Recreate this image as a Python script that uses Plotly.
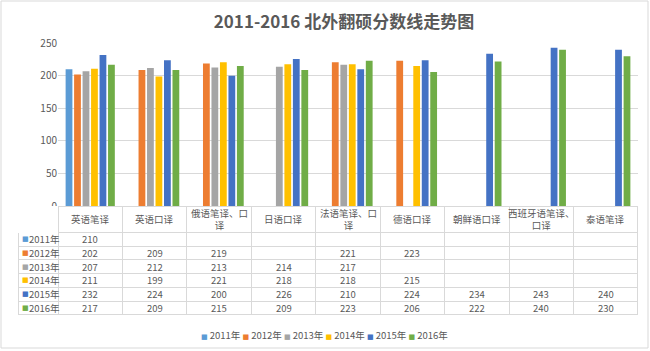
import plotly.graph_objects as go

W, H = 650, 351

categories = ["英语笔译", "英语口译", "俄语笔译、口<br>译", "日语口译", "法语笔译、口<br>译",
              "德语口译", "朝鲜语口译", "西班牙语笔译、<br>口译", "泰语笔译"]
series_names = ["2011年", "2012年", "2013年", "2014年", "2015年", "2016年"]
colors = ["#5B9BD5", "#ED7D31", "#A5A5A5", "#FFC000", "#4472C4", "#70AD47"]

v2011 = [210, None, None, None, None, None, None, None, None]
v2012 = [202, 209, 219, None, 221, 223, None, None, None]
v2013 = [207, 212, 213, 214, 217, None, None, None, None]
v2014 = [211, 199, 221, 218, 218, 215, None, None, None]
v2015 = [232, 224, 200, 226, 210, 224, 234, 243, 240]
v2016 = [217, 209, 215, 209, 223, 206, 222, 240, 230]
series_values = [v2011, v2012, v2013, v2014, v2015, v2016]

y_ticks = [0, 50, 100, 150, 200, 250]

FONT = "Noto Sans CJK SC, Noto Sans, sans-serif"
TXT = "#595959"
GRID = "#D9D9D9"

def px_x(p):
    return p / W

def px_y(p):
    return 1 - p / H

plot_left, plot_right = 58, 638
plot_top, plot_bottom = 43.3, 206
table_left = 18
header_h = 26.5
row_h = 13.7
table_bottom = plot_bottom + header_h + row_h * len(series_names) + 1.5

fig = go.Figure()
cat_idx = list(range(len(categories)))
for name, col, vals in zip(series_names, colors, series_values):
    fig.add_trace(go.Bar(x=cat_idx, y=vals, name=name, marker=dict(color=col, line=dict(width=0)),
                         showlegend=False))

# data table grid under the chart (texts are placed row-centred as annotations below)
ncol = len(categories) + 1
cat_w = (plot_right - plot_left) / len(categories)
fig.add_trace(go.Table(
    domain=dict(x=[px_x(table_left), px_x(plot_right)], y=[px_y(table_bottom), px_y(plot_bottom)]),
    columnwidth=[plot_left - table_left] + [cat_w] * len(categories),
    header=dict(values=[""] * ncol, height=header_h,
                fill=dict(color="white"),
                line=dict(color=["white"] + [GRID] * len(categories), width=1)),
    cells=dict(values=[[""] * len(series_names)] * ncol, height=row_h,
               fill=dict(color="white"),
               line=dict(color=GRID, width=1)),
))

annotations = []
for i, c in enumerate(categories):
    annotations.append(dict(x=i, xref="x", y=px_y(plot_bottom + header_h / 2), yref="paper", text=c,
                            showarrow=False, xanchor="center", yanchor="middle",
                            font=dict(size=9.5, color=TXT, family=FONT)))

for k, (name, c, vals) in enumerate(zip(series_names, colors, series_values)):
    yc = px_y(plot_bottom + header_h + row_h * (k + 0.5))
    annotations.append(dict(x=px_x(table_left + 2), xref="paper", y=yc, yref="paper",
                            text="■", showarrow=False, xanchor="left", yanchor="middle",
                            font=dict(size=7, color=c, family="DejaVu Sans")))
    annotations.append(dict(x=px_x(table_left + 8.5), xref="paper", y=yc, yref="paper",
                            text=name, showarrow=False, xanchor="left", yanchor="middle",
                            font=dict(size=9.5, color=TXT, family=FONT)))
    for i, v in enumerate(vals):
        if v is None:
            continue
        annotations.append(dict(x=i, xref="x", y=yc, yref="paper", text=str(v), showarrow=False,
                                xanchor="center", yanchor="middle",
                                font=dict(size=9.5, color=TXT, family=FONT)))

legend_text = "\u00a0".join(
    f'<span style="color:{c};font-size:7px;font-family:DejaVu Sans">■</span>\u00a0{n}'
    for n, c in zip(series_names, colors))
annotations.append(dict(x=px_x(324), xref="paper", y=px_y(335), yref="paper", text=legend_text,
                        showarrow=False, xanchor="center", yanchor="middle",
                        font=dict(size=9.5, color=TXT, family=FONT)))

fig.update_layout(
    width=W, height=H, autosize=False,
    margin=dict(l=0, r=0, t=0, b=0, pad=0, autoexpand=False),
    paper_bgcolor="white", plot_bgcolor="white",
    showlegend=False,
    title=dict(text="<b>2011-2016 北外翻硕分数线走势图</b>", x=px_x(344), xanchor="center",
               y=px_y(22), yanchor="middle", yref="paper", automargin=False,
               font=dict(size=17, color=TXT, family=FONT)),
    barmode="group", bargap=0.21, bargroupgap=0.2,
    xaxis=dict(domain=[px_x(plot_left), px_x(plot_right)], range=[-0.5, len(categories) - 0.5],
               showticklabels=False, showgrid=False, zeroline=False, showline=False, ticks="",
               automargin=False),
    yaxis=dict(domain=[px_y(plot_bottom), px_y(plot_top)], range=[0, 250], tickvals=y_ticks,
               showgrid=True, gridcolor=GRID, gridwidth=1, zeroline=False, showline=False,
               tickfont=dict(size=10, color=TXT, family=FONT), ticks="", automargin=False),
    annotations=annotations,
    shapes=[dict(type="rect", xref="paper", yref="paper", x0=px_x(1), x1=px_x(648), y0=px_y(348),
                 y1=px_y(1), line=dict(color="#D9D9D9", width=1), fillcolor="rgba(0,0,0,0)")],
    font=dict(family=FONT, color=TXT),
)

fig.write_html("out.html")
